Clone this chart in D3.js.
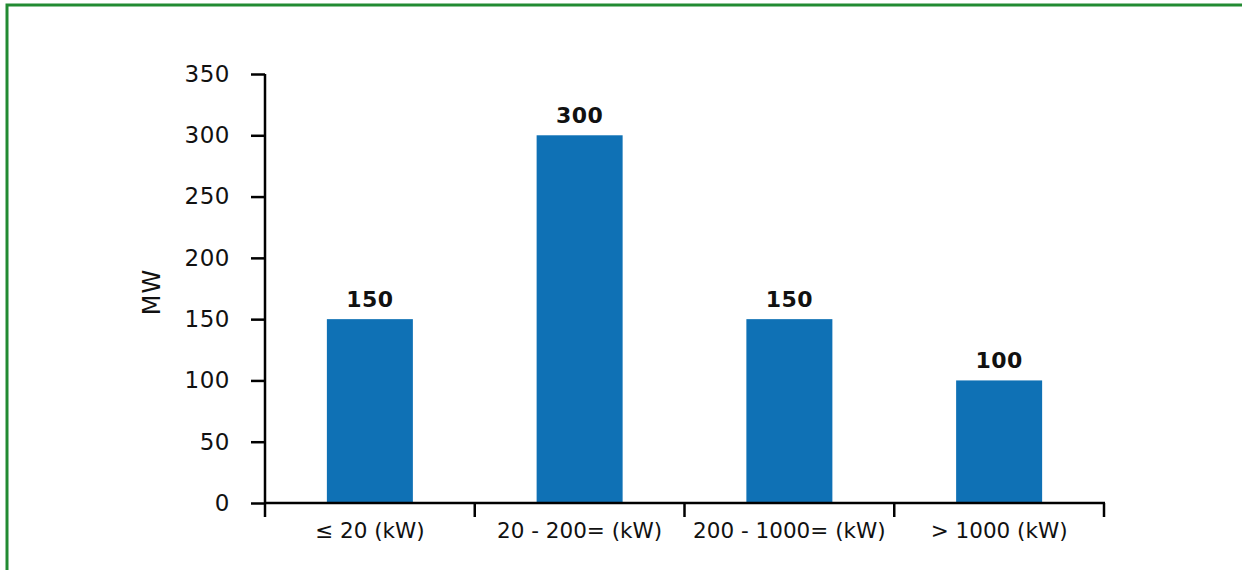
<!DOCTYPE html>
<html>
<head>
<meta charset="utf-8">
<script src="https://cdn.jsdelivr.net/npm/d3@7"></script>
<style>
  html, body { margin: 0; padding: 0; background: #ffffff; }
  svg { display: block; }
  text { font-family: "DejaVu Sans", sans-serif; fill: #111; }
</style>
</head>
<body>
<svg id="chart" width="1242" height="570"></svg>
<script>
const categories = ["≤ 20 (kW)", "20 - 200= (kW)", "200 - 1000= (kW)", "> 1000 (kW)"];
const values = [150, 300, 150, 100];
const valueLabels = ["150", "300", "150", "100"];
const yTicks = [0, 50, 100, 150, 200, 250, 300, 350];
const yTitle = "MW";

const svg = d3.select("#chart");

// green frame
svg.append("rect")
  .attr("x", 7).attr("y", 5)
  .attr("width", 1260).attr("height", 600)
  .attr("fill", "none")
  .attr("stroke", "#228b32")
  .attr("stroke-width", 3);

const x0 = 265, x1 = 1104, yTop = 74, yBottom = 503;

const x = d3.scaleBand().domain(categories).range([x0, x1]).paddingInner(0.59).paddingOuter(0.295);
const y = d3.scaleLinear().domain([0, 350]).range([yBottom, yTop]);

// bars
svg.append("g").selectAll("rect")
  .data(values)
  .join("rect")
  .attr("x", (d, i) => x(categories[i]))
  .attr("y", d => y(d))
  .attr("width", x.bandwidth())
  .attr("height", d => y(0) - y(d))
  .attr("fill", "#0f71b5");

// value labels
svg.append("g").selectAll("text")
  .data(values)
  .join("text")
  .attr("x", (d, i) => x(categories[i]) + x.bandwidth() / 2)
  .attr("y", d => y(d) - 12)
  .attr("text-anchor", "middle")
  .style("font-size", "22px")
  .style("font-weight", "bold")
  .style("letter-spacing", "0.5px")
  .text((d, i) => valueLabels[i]);

// y axis
const yAxis = d3.axisLeft(y).tickValues(yTicks).tickSize(14).tickPadding(21).tickFormat(d3.format("d"));
const gy = svg.append("g").attr("transform", `translate(${x0},0)`).call(yAxis);
gy.select(".domain").attr("d", `M0,${yTop}V${yBottom}`).attr("stroke", "#000").attr("stroke-width", 2.5);
gy.selectAll(".tick line").attr("stroke", "#000").attr("stroke-width", 2.5);
gy.selectAll(".tick text").style("font-size", "23px").style("letter-spacing", "0.5px").style("font-family", "DejaVu Sans, sans-serif").attr("fill", "#111");

// x axis: line and boundary ticks
const boundaries = [x0].concat(categories.map(c => x(c) + x.bandwidth() + x.step() * x.paddingInner() / 2));
boundaries[boundaries.length - 1] = x1;
const gx = svg.append("g");
gx.append("line")
  .attr("x1", x0 - 1).attr("x2", x1 + 1)
  .attr("y1", yBottom).attr("y2", yBottom)
  .attr("stroke", "#000").attr("stroke-width", 2.5);
gx.selectAll("line.bt")
  .data(boundaries)
  .join("line")
  .attr("class", "bt")
  .attr("x1", d => d).attr("x2", d => d)
  .attr("y1", yBottom).attr("y2", yBottom + 14)
  .attr("stroke", "#000").attr("stroke-width", 2.5);
gx.selectAll("text")
  .data(categories)
  .join("text")
  .attr("x", d => x(d) + x.bandwidth() / 2)
  .attr("y", yBottom + 35)
  .attr("text-anchor", "middle")
  .style("font-size", "21.5px")
  .text(d => d);

// y title
svg.append("text")
  .attr("transform", `translate(160,292) rotate(-90)`)
  .attr("text-anchor", "middle")
  .style("font-size", "24px")
  .style("letter-spacing", "1px")
  .text(yTitle);
</script>
</body>
</html>
